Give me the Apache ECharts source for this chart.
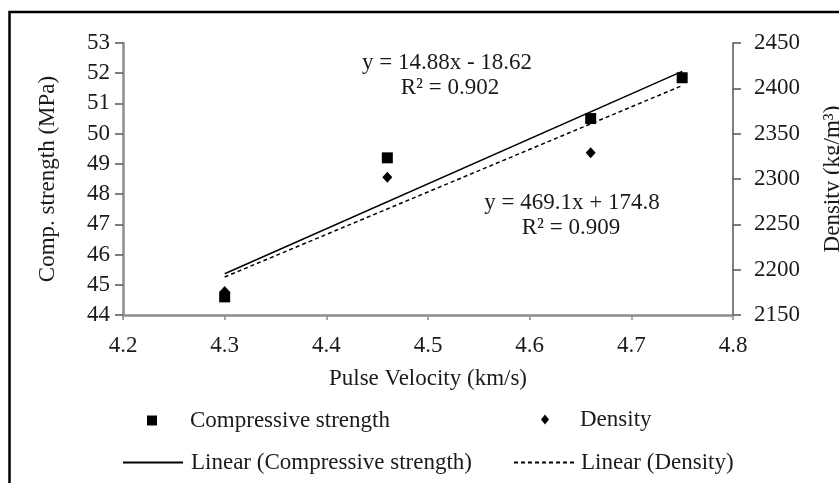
<!DOCTYPE html>
<html>
<head>
<meta charset="utf-8">
<script src="https://cdn.jsdelivr.net/npm/echarts@6/dist/echarts.min.js"></script>
<style>
  html, body { margin: 0; padding: 0; background: #fff; }
  #chart { width: 839px; height: 483px; }
</style>
</head>
<body>
<div id="chart"></div>
<script>
// Pulse velocity (km/s) of each mix
const velocity = [4.3, 4.46, 4.66, 4.75];
// Compressive strength (MPa)
const compStrength = [44.6, 49.2, 50.5, 51.85];
// Density (kg/m³)
const density = [2176, 2302, 2329, 2412];

// Linear trend coefficients (slope, intercept) as printed on the plot
const fitStrength = [14.88, -18.62];
const fitDensity = [469.1, 174.8];
const fitR2 = [0.902, 0.909];

const FONT = 'Liberation Serif';
const TXT = '#1a1a1a';
const FS = 23;

function trend(coef) {
  const xs = [velocity[0], velocity[velocity.length - 1]];
  return xs.map(x => [x, coef[0] * x + coef[1]]);
}

function fmtEq(coef) {
  const b = coef[1];
  return 'y = ' + coef[0] + 'x ' + (b < 0 ? '- ' : '+ ') + Math.abs(b);
}

const chart = echarts.init(document.getElementById('chart'), null, { renderer: 'canvas' });

const axisText = { fontFamily: FONT, fontSize: FS, color: TXT };

const legendBase = {
  orient: 'horizontal',
  padding: 0,
  selectedMode: false,
  textStyle: { fontFamily: FONT, fontSize: FS, color: TXT }
};

chart.setOption({
  animation: false,
  backgroundColor: '#fff',
  grid: { left: 123, right: 106, top: 43, bottom: 168, outerBoundsMode: 'none', containLabel: false },
  xAxis: {
    type: 'value',
    min: 4.2, max: 4.8, interval: 0.1,
    name: 'Pulse Velocity (km/s)',
    nameLocation: 'middle',
    nameGap: 52,
    nameTextStyle: axisText,
    axisLine: { show: true, onZero: false, lineStyle: { color: '#8c8c8c', width: 2.5 } },
    axisTick: { show: true, length: 5, lineStyle: { color: '#8c8c8c', width: 1.5 } },
    axisLabel: Object.assign({ margin: 19, formatter: v => v.toFixed(1) }, axisText),
    splitLine: { show: false }
  },
  yAxis: [
    {
      type: 'value',
      position: 'left',
      min: 44, max: 53, interval: 1,
      name: 'Comp. strength (MPa)',
      nameLocation: 'middle',
      nameRotate: 90,
      nameGap: 64,
      nameTextStyle: axisText,
      axisLine: { show: true, lineStyle: { color: '#8c8c8c', width: 2.5 } },
      axisTick: { show: true, length: 8, lineStyle: { color: '#555', width: 1.5 } },
      axisLabel: Object.assign({ margin: 13 }, axisText),
      splitLine: { show: false }
    },
    {
      type: 'value',
      position: 'right',
      min: 2150, max: 2450, interval: 50,
      name: 'Density (kg/m³)',
      nameLocation: 'middle',
      nameRotate: 90,
      nameGap: 88,
      nameTextStyle: axisText,
      axisLine: { show: true, lineStyle: { color: '#555', width: 1.5 } },
      axisTick: { show: true, length: 8, lineStyle: { color: '#555', width: 1.5 } },
      axisLabel: Object.assign({ margin: 21, formatter: v => String(v) }, axisText),
      splitLine: { show: false }
    }
  ],
  legend: [
    Object.assign({}, legendBase, {
      data: [{ name: 'Compressive strength', icon: 'rect' }],
      left: 147, top: 409, itemWidth: 10, itemHeight: 10,
      textStyle: Object.assign({}, legendBase.textStyle, { padding: [0, 0, 0, 28] })
    }),
    Object.assign({}, legendBase, {
      data: [{ name: 'Density', icon: 'diamond' }],
      left: 541, top: 408, itemWidth: 8, itemHeight: 10,
      textStyle: Object.assign({}, legendBase.textStyle, { padding: [0, 0, 0, 26] })
    }),
    Object.assign({}, legendBase, {
      data: ['Linear (Compressive strength)'],
      left: 122, top: 451, itemWidth: 60, itemHeight: 14,
      itemStyle: { opacity: 0 },
      textStyle: Object.assign({}, legendBase.textStyle, { padding: [0, 0, 0, 3] })
    }),
    Object.assign({}, legendBase, {
      data: ['Linear (Density)'],
      left: 513, top: 451, itemWidth: 60, itemHeight: 14,
      itemStyle: { opacity: 0 },
      textStyle: Object.assign({}, legendBase.textStyle, { padding: [0, 0, 0, 2] })
    })
  ],
  series: [
    {
      name: 'Linear (Compressive strength)',
      type: 'line',
      yAxisIndex: 0,
      data: trend(fitStrength),
      symbol: 'none',
      lineStyle: { color: '#000', width: 1.5, type: 'solid' },
      itemStyle: { color: '#000' },
      z: 2
    },
    {
      name: 'Linear (Density)',
      type: 'line',
      yAxisIndex: 1,
      data: trend(fitDensity),
      symbol: 'none',
      lineStyle: { color: '#000', width: 1.5, type: [4, 3] },
      itemStyle: { color: '#000' },
      z: 2
    },
    {
      name: 'Compressive strength',
      type: 'scatter',
      yAxisIndex: 0,
      data: velocity.map((x, i) => [x, compStrength[i]]),
      symbol: 'rect',
      symbolSize: 11,
      itemStyle: { color: '#000', opacity: 1 },
      z: 3
    },
    {
      name: 'Density',
      type: 'scatter',
      yAxisIndex: 1,
      data: velocity.map((x, i) => [x, density[i]]),
      symbol: 'diamond',
      symbolSize: [10, 11],
      itemStyle: { color: '#000', opacity: 1 },
      z: 3
    }
  ],
  graphic: [
    {
      type: 'rect',
      shape: { x: 9.5, y: 12, width: 900, height: 600 },
      style: { fill: 'none', stroke: '#000', lineWidth: 2.5 },
      silent: true, z: 100
    },
    {
      type: 'text',
      style: { text: fmtEq(fitStrength), x: 447, y: 63, align: 'center', verticalAlign: 'middle',
        font: FS + 'px "' + FONT + '"', fill: TXT }
    },
    {
      type: 'text',
      style: { text: 'R² = ' + fitR2[0], x: 450, y: 88, align: 'center', verticalAlign: 'middle',
        font: FS + 'px "' + FONT + '"', fill: TXT }
    },
    {
      type: 'text',
      style: { text: fmtEq(fitDensity), x: 572, y: 203, align: 'center', verticalAlign: 'middle',
        font: FS + 'px "' + FONT + '"', fill: TXT }
    },
    {
      type: 'text',
      style: { text: 'R² = ' + fitR2[1], x: 571, y: 228, align: 'center', verticalAlign: 'middle',
        font: FS + 'px "' + FONT + '"', fill: TXT }
    }
  ]
});
</script>
</body>
</html>
